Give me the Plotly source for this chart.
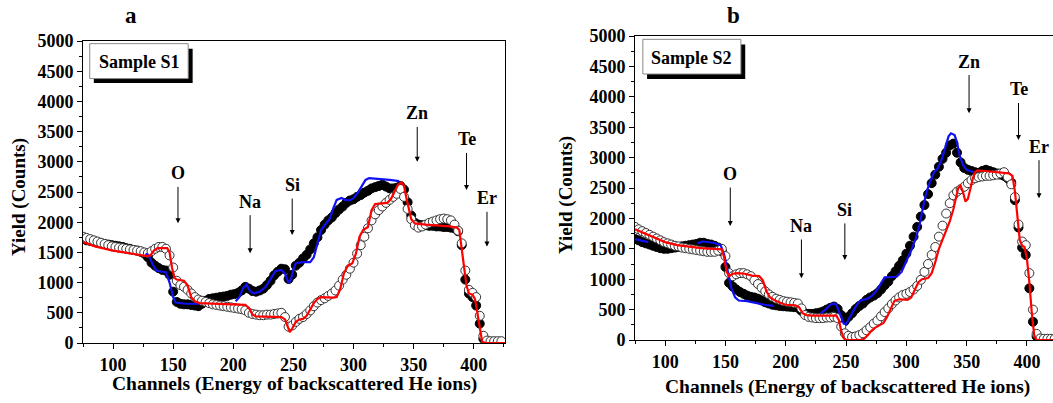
import plotly.graph_objects as go

# ---- data (channel, yield) ----
ch_pts = list(range(75, 424, 3))

# panel a, sample S1
a_filled = [1720, 1700, 1690, 1680, 1660, 1650, 1640, 1630, 1620, 1610, 1600, 1590,
            1570, 1560, 1540, 1530, 1510, 1480, 1420, 1330, 1280, 1240, 1210, 1200,
            1130, 850, 680, 650, 640, 640, 630, 620, 610, 650, 700, 730,
            740, 750, 760, 770, 780, 800, 810, 830, 870, 930, 900, 860,
            850, 870, 900, 960, 1030, 1120, 1180, 1230, 1220, 1060, 1130, 1280,
            1330, 1400, 1460, 1550, 1650, 1750, 1870, 1960, 2030, 2080, 2150, 2210,
            2260, 2320, 2360, 2380, 2420, 2450, 2490, 2520, 2560, 2580, 2600, 2620,
            2590, 2560, 2560, 2570, 2600, 2540, 2330, 2110, 1990, 1960, 1950, 1950,
            1940, 1940, 1930, 1930, 1920, 1920, 1910, 1900, 1850, 1620, 1050, 820,
            760, 620, 320, 70, 30, 20, 20, 20, 20]
a_open = [1760, 1740, 1720, 1700, 1680, 1660, 1640, 1620, 1600, 1590, 1580, 1570,
          1560, 1550, 1540, 1530, 1520, 1500, 1490, 1520, 1560, 1590, 1590, 1560,
          1450, 1250, 1030, 960, 930, 880, 820, 760, 720, 700, 680, 660,
          640, 630, 620, 610, 600, 590, 580, 570, 560, 540, 500, 480,
          470, 460, 460, 470, 470, 480, 490, 500, 430, 270, 290, 350,
          400, 430, 480, 540, 610, 670, 710, 740, 780, 820, 870, 950,
          1050, 1130, 1230, 1330, 1480, 1620, 1760, 1900, 2030, 2130, 2200, 2260,
          2320, 2370, 2420, 2470, 2550, 2420, 2220, 2050, 1950, 1910, 1930, 1960,
          1990, 2010, 2030, 2050, 2060, 2050, 2030, 1960, 1860, 1650, 1200, 880,
          830, 760, 450, 120, 40, 30, 30, 30, 30]
a_red_x = [75, 85, 100, 115, 128, 131, 134, 137, 145, 147, 149, 151, 153, 159, 162, 165,
           168, 172, 190, 210, 213, 216, 219, 240, 243, 245, 247, 249, 252, 255, 258,
           261, 264, 267, 270, 273, 283, 286, 289, 292, 295, 299, 302, 305, 308, 312,
           315, 318, 328, 331, 334, 337, 340, 342, 344, 346, 348, 351, 360, 380, 386,
           388, 390, 392, 394, 396, 399, 401, 403, 405, 407, 410, 426]
a_red_y = [1670, 1600, 1530, 1480, 1440, 1450, 1530, 1570, 1570, 1500, 1250, 1080, 1050,
           1030, 950, 760, 690, 660, 640, 630, 580, 470, 440, 430, 390, 270, 180, 240,
           350, 390, 400, 450, 560, 660, 730, 760, 750, 760, 900, 1150, 1270, 1320,
           1480, 1760, 1870, 1920, 2200, 2300, 2320, 2380, 2500, 2620, 2660, 2600,
           2400, 2200, 2050, 1980, 1960, 1930, 1910, 1870, 1600, 1250, 950, 820, 800,
           730, 500, 220, 20, 0, 0]
a_blue_x = [127, 130, 133, 136, 141, 144, 147, 150, 152, 160, 172, None,
            202, 205, 208, 211, 214, 217, 222, 227, 231, 235, 240, 243, 246, 248, 250,
            252, 258, 264, 267, 270, 273, 276, 280, 283, 286, 290, 293, 297, 300, 303,
            307, 310, 313, 320, 330, 338]
a_blue_y = [1480, 1440, 1300, 1200, 1180, 1170, 1000, 760, 670, 650, 650, None,
            690, 760, 900, 970, 860, 820, 850, 930, 1060, 1190, 1210, 1150, 990, 1060,
            1220, 1320, 1340, 1340, 1420, 1650, 1870, 1950, 2050, 2220, 2370, 2400,
            2370, 2360, 2400, 2470, 2600, 2700, 2730, 2720, 2700, 2680]

# panel b, sample S2
b_filled = [1660, 1640, 1610, 1590, 1570, 1550, 1530, 1510, 1500, 1500, 1510, 1520,
            1530, 1540, 1550, 1560, 1570, 1580, 1600, 1600, 1580, 1570, 1550, 1520,
            1460, 1200, 940, 880, 830, 790, 760, 730, 710, 700, 680, 650,
            620, 600, 580, 570, 560, 555, 550, 545, 540, 530, 480, 440,
            430, 430, 440, 450, 470, 500, 530, 550, 510, 410, 310, 380,
            440, 510, 560, 600, 660, 700, 730, 770, 830, 900, 960, 1050,
            1130, 1220, 1310, 1420, 1550, 1700, 1860, 2030, 2220, 2400, 2580, 2720,
            2850, 2980, 3080, 3200, 3230, 3080, 2920, 2830, 2800, 2780, 2760, 2750,
            2780, 2800, 2780, 2760, 2740, 2720, 2700, 2660, 2590, 2300, 1850, 1520,
            1400, 850, 300, 60, 15, 10, 10, 10, 10]
b_open = [1860, 1820, 1790, 1760, 1730, 1700, 1670, 1640, 1610, 1590, 1570, 1550,
          1540, 1520, 1510, 1500, 1490, 1480, 1470, 1460, 1450, 1450, 1450, 1470,
          1500, 1380, 1100, 1050, 1080, 1100, 1100, 1080, 1050, 980, 920, 860,
          800, 750, 710, 680, 660, 640, 630, 620, 610, 600, 520, 410,
          380, 370, 360, 360, 360, 370, 370, 380, 360, 220, 110, 70,
          50, 60, 80, 110, 160, 210, 270, 320, 390, 460, 520, 590,
          650, 700, 740, 760, 790, 830, 890, 990, 1120, 1250, 1400, 1530,
          1700, 1880, 2080, 2250, 2380, 2440, 2480, 2520, 2580, 2630, 2660, 2680,
          2690, 2700, 2700, 2710, 2720, 2740, 2760, 2680, 2560, 2350, 1900, 1620,
          1560, 1100, 500, 100, 25, 20, 20, 20, 20]
b_red_x = [75, 80, 90, 100, 110, 120, 130, 140, 147, 149, 151, 153, 156, 160, 166, 172,
           178, 181, 184, 187, 192, 197, 200, 208, 211, 214, 217, 222, 242, 244, 246,
           248, 250, 262, 265, 268, 271, 274, 278, 281, 284, 287, 290, 294, 301, 304,
           307, 310, 313, 318, 321, 324, 327, 330, 333, 336, 339, 341, 343, 345, 347,
           349, 351, 353, 355, 357, 359, 365, 375, 385, 388, 390, 392, 394, 396, 398,
           400, 402, 404, 406, 408, 425]
b_red_y = [1820, 1780, 1700, 1610, 1560, 1530, 1510, 1500, 1490, 1350, 1120, 1050, 1090,
           1100, 1090, 1060, 1050, 980, 800, 700, 640, 600, 580, 570, 540, 440, 410,
           400, 400, 330, 150, 30, 0, 0, 20, 80, 150, 200, 240, 280, 380, 520, 640,
           670, 660, 700, 830, 950, 1000, 1020, 1100, 1280, 1500, 1650, 1800, 1950,
           2150, 2350, 2500, 2540, 2430, 2280, 2320, 2480, 2650, 2760, 2790, 2780,
           2760, 2740, 2700, 2450, 2050, 1650, 1550, 1530, 1330, 950, 450, 80, 0, 0]
b_blue_x = [75, 80, 86, None,
            127, 131, 140, 146, 149, 152, 155, 158, 161, 168, 175, 182, 190, None,
            229, 233, 237, 240, 242, 245, 248, 250, 253, 256, 259, 262, 268, 271, 275,
            279, 282, 292, 296, 300, 304, 308, 311, 314, 317, 320, 323, 326, 329, 332,
            335, 337, 340, 342, 344, 347, 350, 356]
b_blue_y = [1660, 1640, 1610, None,
            1590, 1620, 1600, 1560, 1400, 1100, 850, 700, 650, 640, 610, 580, 560, None,
            440, 500, 580, 600, 580, 430, 270, 260, 380, 480, 580, 650, 680, 720, 800,
            940, 1030, 1040, 1120, 1300, 1470, 1680, 1900, 2200, 2450, 2620, 2760,
            2820, 2950, 3150, 3350, 3400, 3370, 3250, 3050, 2880, 2800, 2760]

elements = ["O", "Na", "Si", "Zn", "Te", "Er"]
a_el_ch = [154, 214, 249, 353, 394, 411]
a_el_label = [2808, 2340, 2615, 3800, 3370, 2395]
a_el_head = [1982, 1487, 1790, 3001, 2533, 1597]
b_el_ch = [154, 213, 249, 352, 393, 410]
b_el_label = [2730, 1875, 2140, 4580, 4120, 3180]
b_el_head = [1875, 1015, 1315, 3730, 3290, 2330]

FONT = "Liberation Serif"
W, H = 1053, 403


def px(v):
    return v / W


def py(v):
    return 1 - v / H


fig = go.Figure()


def add_panel(xa, ya, filled, opened, bx, by, rx, ry):
    fig.add_trace(go.Scatter(x=ch_pts, y=filled, mode="markers", xaxis=xa, yaxis=ya,
                             marker=dict(size=9, color="black", line=dict(color="black", width=1)),
                             showlegend=False))
    fig.add_trace(go.Scatter(x=ch_pts, y=opened, mode="markers", xaxis=xa, yaxis=ya,
                             marker=dict(size=9, color="white", line=dict(color="#333333", width=1)),
                             showlegend=False))
    fig.add_trace(go.Scatter(x=bx, y=by, mode="lines", xaxis=xa, yaxis=ya,
                             line=dict(color="#1010f0", width=2.2), connectgaps=False,
                             showlegend=False))
    fig.add_trace(go.Scatter(x=rx, y=ry, mode="lines", xaxis=xa, yaxis=ya,
                             line=dict(color="#ff0000", width=2.2), showlegend=False))


add_panel("x", "y", a_filled, a_open, a_blue_x, a_blue_y, a_red_x, a_red_y)
add_panel("x2", "y2", b_filled, b_open, b_blue_x, b_blue_y, b_red_x, b_red_y)

tickfont = dict(family=FONT, size=18, color="black", weight="bold")
xcommon = dict(showline=True, linecolor="black", linewidth=1, ticks="outside", ticklen=5,
               tickcolor="black", dtick=50, tick0=0, showgrid=False, zeroline=False,
               automargin=False, tickfont=tickfont,
               minor=dict(dtick=25, ticks="outside", ticklen=3, tickcolor="black"))
ycommon = dict(showline=True, linecolor="black", linewidth=1, ticks="outside", ticklen=5,
               tickcolor="black", range=[0, 5000], dtick=500, showgrid=False, zeroline=False,
               automargin=False, tickfont=tickfont,
               minor=dict(dtick=250, ticks="outside", ticklen=3, tickcolor="black"))

fig.update_layout(
    width=W, height=H,
    margin=dict(l=0, r=0, t=0, b=0, autoexpand=False),
    paper_bgcolor="white", plot_bgcolor="white",
    xaxis=dict(xcommon, domain=[px(83), px(505)], range=[75, 426], mirror=True, anchor="y"),
    yaxis=dict(ycommon, domain=[py(343), py(41)], mirror=True, anchor="x"),
    xaxis2=dict(xcommon, domain=[px(635), 1.0], range=[75, 421.6], mirror=True, anchor="y2"),
    yaxis2=dict(ycommon, domain=[py(340), py(36)], mirror=False, anchor="x2"),
)

bold = dict(family=FONT, color="black", weight="bold")
ann = []
shapes = []


def paper_text(text, x, y, size, angle=0):
    ann.append(dict(text=text, x=px(x), y=py(y), xref="paper", yref="paper",
                    xanchor="center", yanchor="middle", textangle=angle,
                    showarrow=False, font=dict(bold, size=size)))


# panel letters and axis titles
paper_text("a", 131, 15, 23)
paper_text("b", 733, 15, 23)
paper_text("Channels (Energy of backscattered He ions)", 294, 384, 19.5)
paper_text("Channels (Energy of backscattered He ions)", 847, 387, 19.5)
paper_text("Yield (Counts)", 19, 197, 19, -90)
paper_text("Yield (Counts)", 566, 195, 19, -90)

# sample boxes with drop shadow
for xr, yr, name, box, shadow, txt in [
    ("x", "y", "Sample S1", (80.6, 162.5, 4378, 4956), (84, 166.2, 4306, 4873), (121.6, 4650)),
    ("x2", "y2", "Sample S2", (81.5, 162.8, 4375, 4945), (85, 166.4, 4293, 4860), (122.1, 4640)),
]:
    shapes.append(dict(type="rect", xref=xr, yref=yr, x0=shadow[0], x1=shadow[1],
                       y0=shadow[2], y1=shadow[3], fillcolor="black", line=dict(width=0)))
    shapes.append(dict(type="rect", xref=xr, yref=yr, x0=box[0], x1=box[1],
                       y0=box[2], y1=box[3], fillcolor="white",
                       line=dict(color="#8a8a8a", width=1)))
    ann.append(dict(text=name, x=txt[0], y=txt[1], xref=xr, yref=yr, showarrow=False,
                    xanchor="center", yanchor="middle", font=dict(bold, size=18)))

# element arrows
for xr, yr, chs, labs, heads in [("x", "y", a_el_ch, a_el_label, a_el_head),
                                 ("x2", "y2", b_el_ch, b_el_label, b_el_head)]:
    for el, c, lab, head in zip(elements, chs, labs, heads):
        ann.append(dict(text=el, x=c, y=head, ax=c, ay=lab, xref=xr, yref=yr,
                        axref=xr, ayref=yr, showarrow=True, arrowhead=2, arrowsize=1,
                        arrowwidth=1, arrowcolor="black", borderpad=3,
                        font=dict(bold, size=18)))

fig.update_layout(annotations=ann, shapes=shapes)

# drop the default 8px page margin so the figure fills the window exactly
fig.write_html("out.html", config={"displayModeBar": False},
               post_script="document.body.style.margin='0px';")
